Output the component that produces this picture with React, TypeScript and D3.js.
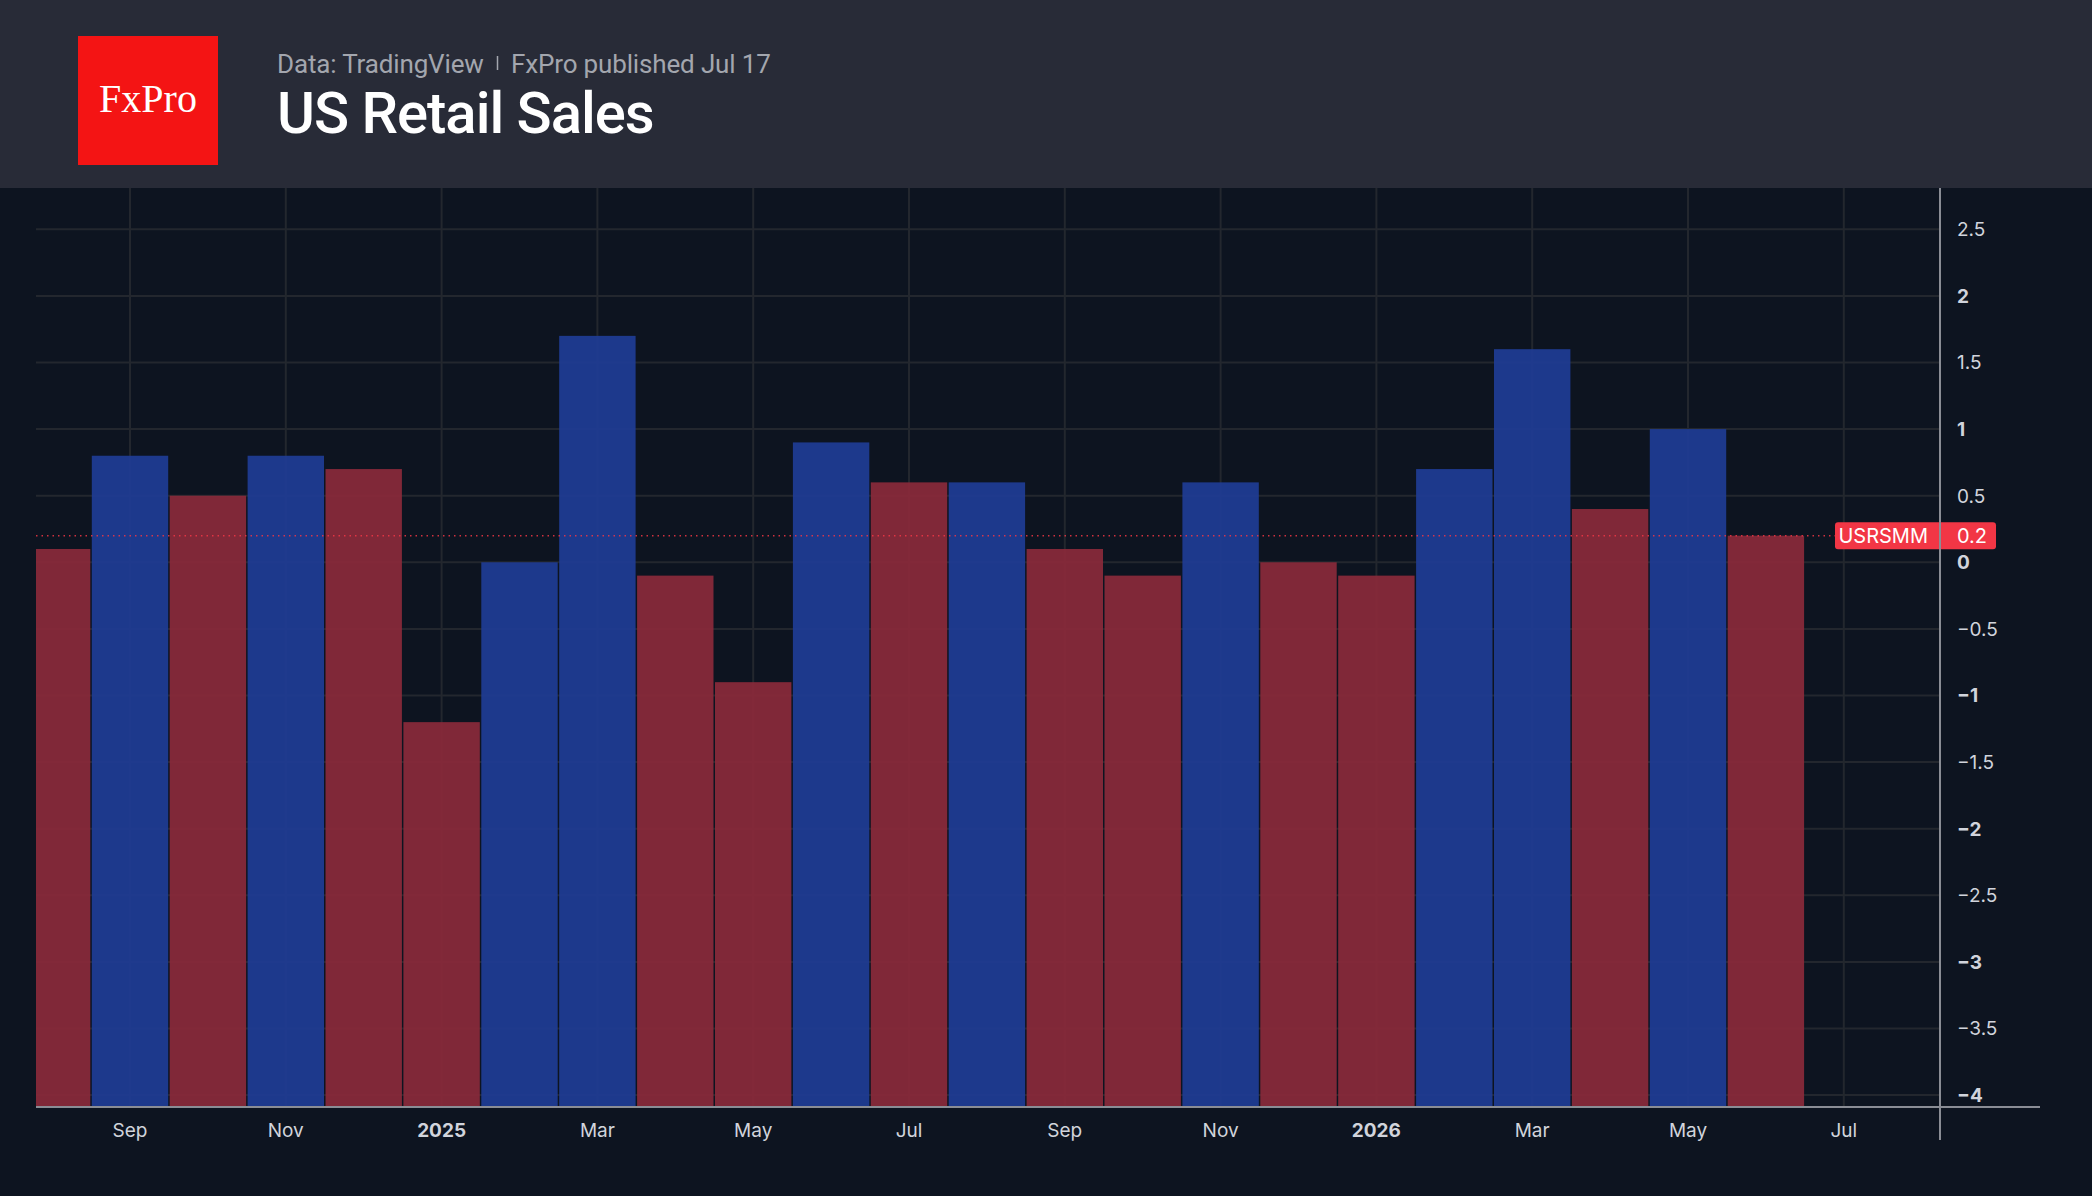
import React from "react";
import * as d3 from "d3";

// Monthly retail sales change, % m/m
const months = [
  "Aug", "Sep", "Oct", "Nov", "Dec", "Jan", "Feb", "Mar", "Apr", "May", "Jun", "Jul",
  "Aug", "Sep", "Oct", "Nov", "Dec", "Jan", "Feb", "Mar", "Apr", "May", "Jun",
];
const values = [
  0.1, 0.8, 0.5, 0.8, 0.7, -1.2, 0.0, 1.7, -0.1, -0.9, 0.9, 0.6,
  0.6, 0.1, -0.1, 0.6, 0.0, -0.1, 0.7, 1.6, 0.4, 1.0, 0.2,
];
// Time axis labels: [month index, label, bold]
const xTicks: [number, string, boolean][] = [
  [1, "Sep", false], [3, "Nov", false], [5, "2025", true], [7, "Mar", false],
  [9, "May", false], [11, "Jul", false], [13, "Sep", false], [15, "Nov", false],
  [17, "2026", true], [19, "Mar", false], [21, "May", false], [23, "Jul", false],
];
const yTicks = [2.5, 2, 1.5, 1, 0.5, 0, -0.5, -1, -1.5, -2, -2.5, -3, -3.5, -4];
const seriesName = "USRSMM";
const lastValue = values[values.length - 1];

const W = 2092;
const H = 1196;
const HEADER_H = 188;
const PLOT_L = 36;
const PLOT_R = 1940;
const PLOT_T = HEADER_H;
const PLOT_B = 1107;

const BG = "#0d1420";
const HEADER_BG = "#282b37";
const GRID = "#23272e";
const BLUE = "#1f3c94";
const RED = "#8a2a3a";
const LABEL = "#d1d4dc";

export default function App() {
  const x = d3.scaleLinear().domain([0, months.length]).range([52.1, 52.1 + months.length * 77.9]);
  const step = x(1) - x(0);
  const y = d3.scaleLinear().domain([0, 1]).range([562.3, 562.3 - 133.2]);

  const bars = values.map((v, i) => {
    const rising = i === 0 ? false : v >= values[i - 1];
    return { i, v, color: rising ? BLUE : RED };
  });

  const fmt = (t: number) => (t < 0 ? "\u2212" + Math.abs(t) : String(t));
  const priceY = y(lastValue);

  return (
    <svg
      width={W}
      height={H}
      style={{ position: "absolute", left: 0, top: 0, display: "block" }}
    >
      <defs>
        <clipPath id="plot-clip">
          <rect x={PLOT_L} y={PLOT_T} width={PLOT_R - PLOT_L} height={PLOT_B - PLOT_T} />
        </clipPath>
      </defs>
      <rect x={0} y={0} width={W} height={H} fill={BG} />

      {/* header */}
      <rect x={0} y={0} width={W} height={HEADER_H} fill={HEADER_BG} />
      <rect x={78} y={36} width={140} height={129} fill="#f41414" />
      <text
        x={148}
        y={112}
        textAnchor="middle"
        fill="#ffffff"
        fontFamily="'Liberation Serif', 'DejaVu Serif', serif"
        fontSize={40}
      >
        FxPro
      </text>
      <text
        x={277}
        y={73}
        fill="#a3a6ae"
        fontFamily="Roboto, sans-serif"
        fontSize={26}
        letterSpacing={-0.15}
      >
        Data: TradingView
      </text>
      <line x1={497.5} x2={497.5} y1={56} y2={70} stroke="#a3a6ae" strokeWidth={1.5} />
      <text
        x={511}
        y={73}
        fill="#a3a6ae"
        fontFamily="Roboto, sans-serif"
        fontSize={26}
        letterSpacing={-0.15}
      >
        FxPro published Jul 17
      </text>
      <text
        x={277}
        y={133}
        fill="#ffffff"
        fontFamily="Roboto, sans-serif"
        fontWeight={500}
        fontSize={58}
        letterSpacing={-1}
      >
        US Retail Sales
      </text>

      {/* grid */}
      <g clipPath="url(#plot-clip)">
        {yTicks.map((t) => (
          <line key={"h" + t} x1={PLOT_L} x2={PLOT_R} y1={y(t)} y2={y(t)} stroke={GRID} strokeWidth={2} />
        ))}
        {xTicks.map(([i]) => (
          <line key={"v" + i} x1={x(i)} x2={x(i)} y1={PLOT_T} y2={PLOT_B} stroke={GRID} strokeWidth={2} />
        ))}

        {/* columns */}
        {bars.map((b) => (
          <rect
            key={b.i}
            x={x(b.i) - step / 2 + 0.75}
            width={step - 1.5}
            y={y(b.v)}
            height={PLOT_B - y(b.v)}
            fill={b.color}
            fillOpacity={0.93}
          />
        ))}

        {/* last value line */}
        <line
          x1={PLOT_L}
          x2={1835}
          y1={priceY}
          y2={priceY}
          stroke="#f23645"
          strokeOpacity={0.85}
          strokeWidth={1.5}
          strokeDasharray="1.5 4"
        />
      </g>

      {/* axes */}
      <line x1={PLOT_L} x2={2040} y1={PLOT_B} y2={PLOT_B} stroke="#8a8d95" strokeWidth={2} />
      <line x1={PLOT_R} x2={PLOT_R} y1={PLOT_T} y2={1140} stroke="#8a8d95" strokeWidth={2} />

      {yTicks.map((t) => (
        <text
          key={"yl" + t}
          x={1957}
          y={y(t)}
          dy="0.36em"
          fill={LABEL}
          fontFamily="Inter, 'Noto Sans', sans-serif"
          fontSize={19}
          fontWeight={Number.isInteger(t) ? 700 : 400}
        >
          {fmt(t)}
        </text>
      ))}

      {xTicks.map(([i, label, bold]) => (
        <text
          key={"xl" + i}
          x={x(i)}
          y={1137}
          textAnchor="middle"
          fill={LABEL}
          fontFamily="Inter, 'Noto Sans', sans-serif"
          fontSize={19}
          fontWeight={bold ? 700 : 400}
        >
          {label}
        </text>
      ))}

      {/* last value badge */}
      <rect x={1835} y={priceY - 13.5} width={161} height={27} rx={3} fill="#f23645" />
      <line x1={PLOT_R} x2={PLOT_R} y1={priceY - 13.5} y2={priceY + 13.5} stroke="#8a8d95" strokeWidth={2} />
      <text
        x={1928}
        y={priceY}
        dy="0.36em"
        textAnchor="end"
        fill="#ffffff"
        fontFamily="Inter, 'Noto Sans', sans-serif"
        fontSize={20}
      >
        {seriesName}
      </text>
      <text
        x={1957}
        y={priceY}
        dy="0.36em"
        fill="#ffffff"
        fontFamily="Inter, 'Noto Sans', sans-serif"
        fontSize={20}
      >
        {String(lastValue)}
      </text>
    </svg>
  );
}
